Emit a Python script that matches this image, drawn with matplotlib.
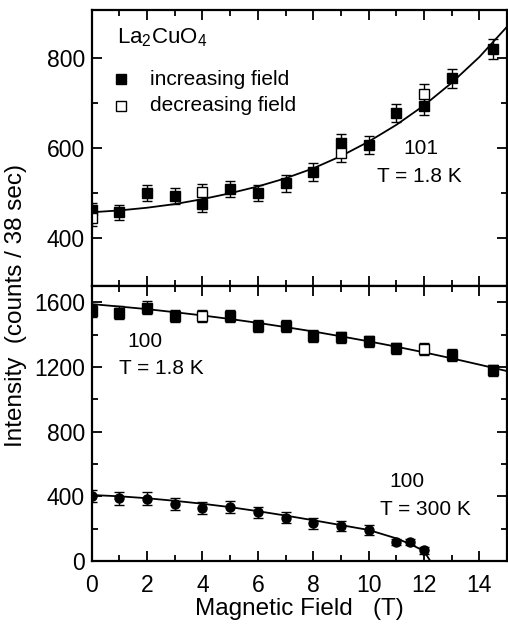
import numpy as np
import matplotlib
matplotlib.use("Agg")
import matplotlib.pyplot as plt
from matplotlib.ticker import MultipleLocator, FixedLocator

plt.rcParams['font.family'] = ['Liberation Sans', 'DejaVu Sans']
plt.rcParams['mathtext.fontset'] = 'custom'
plt.rcParams['mathtext.rm'] = 'Liberation Sans'

# --- top panel: 101 reflection, T = 1.8 K
h101_inc = [0, 1, 2, 3, 4, 5, 6, 7, 8, 9, 10, 11, 12, 13, 14.5]
i101_inc = [462, 458, 501, 494, 476, 509, 501, 522, 547, 610, 607, 677, 693, 754, 819]
e101_inc = [17, 17, 18, 18, 18, 18, 18, 19, 19, 20, 20, 20, 21, 21, 22]
h101_dec = [0, 4, 9, 12]
i101_dec = [445, 502, 588, 720]
e101_dec = [17, 18, 20, 21]
h101_fit = [0, 1, 2, 3, 4, 5, 6, 7, 8, 9, 10, 11, 12, 13, 14, 15]
i101_fit = [458, 462, 468, 476, 487, 500, 515, 533, 555, 582, 614, 651, 694, 744, 801, 868]

# --- bottom panel: 100 reflection, T = 1.8 K
h100_inc = [0, 1, 2, 3, 5, 6, 7, 8, 9, 10, 11, 13, 14.5]
i100_inc = [1547, 1536, 1567, 1516, 1516, 1454, 1452, 1389, 1382, 1358, 1315, 1274, 1178]
e100_inc = [38, 38, 38, 37, 37, 37, 37, 36, 36, 36, 35, 35, 34]
h100_dec = [4, 12]
i100_dec = [1512, 1311]
e100_dec = [37, 35]
h100_fit = [0, 1, 2, 3, 4, 5, 6, 7, 8, 9, 10, 11, 12, 13, 14, 15]
i100_fit = [1588, 1573, 1557, 1538, 1518, 1496, 1472, 1446, 1419, 1389, 1358, 1325, 1290, 1253, 1214, 1174]

# --- bottom panel: 100 reflection, T = 300 K
h300 = [0, 1, 2, 3, 4, 5, 6, 7, 8, 9, 10, 11, 11.5, 12]
i300 = [402, 388, 386, 351, 328, 336, 300, 267, 234, 217, 191, 119, 119, 66]
e300 = [40, 40, 38, 38, 38, 37, 36, 35, 34, 33, 32, 20, 20, 20]
h300_fit = [0, 1, 2, 3, 4, 5, 6, 7, 8, 9, 10, 11, 11.5, 12, 12.23]
i300_fit = [408, 400, 388, 372, 354, 333, 308, 281, 252, 222, 192, 140, 105, 62, 0]

W, H = 508, 627
fig = plt.figure(figsize=(W / 100, H / 100), dpi=100)
left, right = 91.7 / W, 507 / W
ax1 = fig.add_axes([left, 1 - 286 / H, right - left, 276 / H])
ax2 = fig.add_axes([left, 1 - 561 / H, right - left, 275 / H])

ebkw = dict(ls='none', color='black', ecolor='black', elinewidth=1.0,
            capsize=3.5, capthick=1.0, markersize=6.5)

ax1.plot(h101_fit, i101_fit, color='black', lw=1.3)
ax1.errorbar(h101_inc, i101_inc, yerr=e101_inc, marker='s', mfc='black', mec='black', **ebkw)
ax1.errorbar(h101_dec, i101_dec, yerr=e101_dec, marker='s', mfc='white', mec='black', mew=1.0, **ebkw)

ax2.plot(h100_fit, i100_fit, color='black', lw=1.3)
ax2.plot(h300_fit, i300_fit, color='black', lw=1.3)
ax2.errorbar(h100_inc, i100_inc, yerr=e100_inc, marker='s', mfc='black', mec='black', **ebkw)
ax2.errorbar(h100_dec, i100_dec, yerr=e100_dec, marker='s', mfc='white', mec='black', mew=1.0, **ebkw)
ax2.errorbar(h300, i300, yerr=e300, marker='o', mfc='black', mec='black', **ebkw)

for ax in (ax1, ax2):
    ax.set_xlim(0, 15)
    ax.xaxis.set_major_locator(MultipleLocator(2))
    ax.xaxis.set_minor_locator(MultipleLocator(1))
    ax.tick_params(which='both', direction='in', top=True, right=True, width=1.3)
    ax.tick_params(which='major', length=7, labelsize=16.5)
    ax.tick_params(which='minor', length=4)
    ax.tick_params(axis='y', pad=5)
    for s in ax.spines.values():
        s.set_linewidth(1.6)

ax1.set_ylim(295, 905)
ax1.yaxis.set_major_locator(FixedLocator([400, 600, 800]))
ax1.yaxis.set_minor_locator(FixedLocator([500, 700]))
ax1.tick_params(axis='x', labelbottom=False)

ax2.set_ylim(0, 1700)
ax2.yaxis.set_major_locator(MultipleLocator(400))
ax2.yaxis.set_minor_locator(FixedLocator([200, 600, 1000, 1400]))
ax2.tick_params(axis='x', pad=9)
ax2.set_xlabel('Magnetic Field   (T)', fontsize=17.5, labelpad=1)

fig.text(16 / W, 1 - 305 / H, 'Intensity  (counts / 38 sec)', rotation=90,
         ha='center', va='center', fontsize=17.5)

# annotations
ax1.text(0.9, 843, r'La$_2$CuO$_4$', fontsize=16, ha='left', va='center')
ax1.plot([1.05], [752], marker='s', ls='none', mfc='black', mec='black', ms=6.5)
ax1.plot([1.05], [693], marker='s', ls='none', mfc='white', mec='black', ms=6.5, mew=1.0)
ax1.text(2.09, 752, 'increasing field', fontsize=15, ha='left', va='center')
ax1.text(2.09, 693, 'decreasing field', fontsize=15, ha='left', va='center')
ax1.text(11.9, 600, '101', fontsize=15, ha='center', va='center')
ax1.text(11.85, 536, 'T = 1.8 K', fontsize=15, ha='center', va='center')

ax2.text(1.92, 1354, '100', fontsize=15, ha='center', va='center')
ax2.text(2.52, 1193, 'T = 1.8 K', fontsize=15, ha='center', va='center')
ax2.text(11.37, 489, '100', fontsize=15, ha='center', va='center')
ax2.text(12.05, 316, 'T = 300 K', fontsize=15, ha='center', va='center')

fig.savefig('out.png', dpi=100)
